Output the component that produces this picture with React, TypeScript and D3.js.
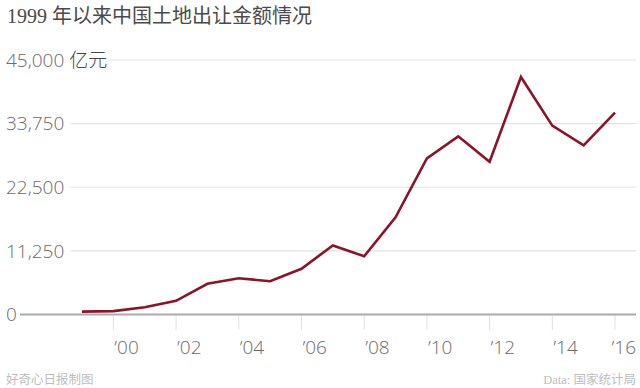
import React, { useRef, useEffect } from "react";
import * as d3 from "d3";

const years = [1999, 2000, 2001, 2002, 2003, 2004, 2005, 2006, 2007, 2008, 2009, 2010, 2011, 2012, 2013, 2014, 2015, 2016];
const landRevenue = [514, 596, 1296, 2417, 5421, 6412, 5884, 8078, 12217, 10300, 17180, 27600, 31500, 27000, 42000, 33400, 29900, 35700];
const yTicks = [0, 11250, 22500, 33750, 45000];
const xTickYears = [2000, 2002, 2004, 2006, 2008, 2010, 2012, 2014, 2016];

const title = "1999 年以来中国土地出让金额情况";
const unit = "亿元";
const credit = "好奇心日报制图";
const source = "Data: 国家统计局";

const width = 640;
const height = 388;
const sans = "'Open Sans', 'Noto Sans CJK SC', sans-serif";
const serif = "'Liberation Serif', 'DejaVu Serif', 'Noto Sans CJK SC', serif";

const App = () => {
  const ref = useRef<SVGSVGElement>(null);

  useEffect(() => {
    const svg = d3.select(ref.current);
    svg.selectAll("*").remove();

    const x = d3.scaleLinear().domain([1999, 2016]).range([82, 615]);
    const y = d3.scaleLinear().domain([0, 45000]).range([314.5, 60]);
    const right = 636;

    svg
      .append("text")
      .attr("x", 7)
      .attr("y", 23)
      .attr("font-family", serif)
      .attr("font-size", 20)
      .attr("fill", "#4a4a4a")
      .text(title);

    // y axis labels + gridlines
    yTicks.forEach((t) => {
      const g = svg.append("g");
      const label = g
        .append("text")
        .attr("x", 6)
        .attr("y", y(t))
        .attr("dy", "0.35em")
        .attr("font-family", sans)
        .attr("font-weight", 300)
        .attr("font-size", 19)
        .attr("fill", "#6b6b6b");
      label.append("tspan").text(d3.format(",")(t));
      if (t === 45000) {
        label.append("tspan").attr("fill", "#444").attr("dx", 5).text(unit);
      }
      const w = (label.node() as SVGTextElement).getComputedTextLength();
      if (t === 0) return;
      g.insert("line", "text")
        .attr("x1", 6 + w + 6)
        .attr("x2", right)
        .attr("y1", y(t))
        .attr("y2", y(t))
        .attr("stroke", "#e3e3e3")
        .attr("stroke-width", 1.2);
    });

    // x ticks
    svg
      .selectAll("line.tick")
      .data(xTickYears)
      .enter()
      .append("line")
      .attr("class", "tick")
      .attr("x1", (d) => x(d))
      .attr("x2", (d) => x(d))
      .attr("y1", y(0))
      .attr("y2", 330)
      .attr("stroke", "#e0e0e0")
      .attr("stroke-width", 1);

    svg
      .selectAll("text.xlab")
      .data(xTickYears)
      .enter()
      .append("text")
      .attr("class", "xlab")
      .attr("x", (d, i) => (i === xTickYears.length - 1 ? right : x(d) + 1))
      .attr("y", 354)
      .attr("text-anchor", (d, i) => (i === xTickYears.length - 1 ? "end" : "start"))
      .attr("font-family", sans)
      .attr("font-weight", 300)
      .attr("font-size", 19)
      .attr("fill", "#6b6b6b")
      .text((d) => "\u2019" + String(d).slice(2));

    // baseline
    svg
      .append("line")
      .attr("x1", 20)
      .attr("x2", right)
      .attr("y1", y(0))
      .attr("y2", y(0))
      .attr("stroke", "#ababab")
      .attr("stroke-width", 2);

    const line = d3
      .line<number>()
      .x((d, i) => x(years[i]))
      .y((d) => y(d));

    svg
      .append("path")
      .datum(landRevenue)
      .attr("d", line)
      .attr("fill", "none")
      .attr("stroke", "#8c1329")
      .attr("stroke-width", 2.6)
      .attr("stroke-linejoin", "miter");

    svg
      .append("text")
      .attr("x", 6)
      .attr("y", 384)
      .attr("font-family", serif)
      .attr("font-size", 12.5)
      .attr("fill", "#bdbdbd")
      .text(credit);

    svg
      .append("text")
      .attr("x", right)
      .attr("y", 384)
      .attr("text-anchor", "end")
      .attr("font-family", serif)
      .attr("font-size", 12.5)
      .attr("fill", "#bdbdbd")
      .text(source);
  }, []);

  return (
    <svg
      ref={ref}
      width={width}
      height={height}
      style={{ position: "absolute", left: 0, top: 0, background: "#fff" }}
    />
  );
};

export default App;
